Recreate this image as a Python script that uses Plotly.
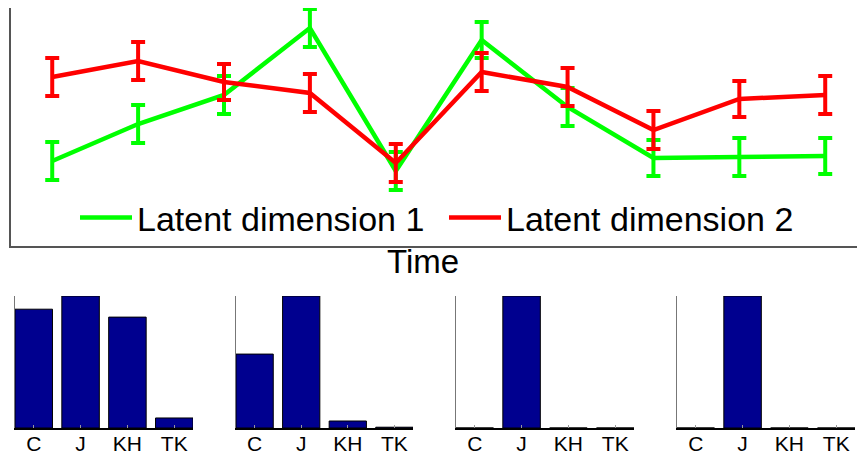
import plotly.graph_objects as go

# ---- data ----
time_points = [1, 2, 3, 4, 5, 6, 7, 8, 9, 10]
dim1_values = [0.85, 1.22, 1.51, 2.18, 0.75, 2.06, 1.39, 0.88, 0.89, 0.90]
dim1_errors = [0.19, 0.19, 0.19, 0.19, 0.19, 0.18, 0.19, 0.18, 0.19, 0.18]
dim2_values = [1.69, 1.85, 1.64, 1.53, 0.83, 1.74, 1.59, 1.16, 1.47, 1.51]
dim2_errors = [0.19, 0.19, 0.18, 0.19, 0.19, 0.19, 0.19, 0.19, 0.18, 0.19]

categories = ["C", "J", "KH", "TK"]
panel1 = [0.90, 1.00, 0.84, 0.076]
panel2 = [0.56, 1.00, 0.053, 0.006]
panel3 = [0.0, 1.00, 0.0, 0.0]
panel4 = [0.0, 1.00, 0.0, 0.0]
panels = [panel1, panel2, panel3, panel4]

W, H = 857, 454
FONT = "Liberation Sans, Arial, sans-serif"

fig = go.Figure()

fig.add_trace(go.Scatter(
    x=time_points, y=dim1_values, mode="lines", name="Latent dimension 1",
    line=dict(color="#00FF00", width=4.5),
    error_y=dict(type="data", array=dim1_errors, visible=True,
                 color="#00FF00", thickness=4, width=7),
    xaxis="x", yaxis="y"))
fig.add_trace(go.Scatter(
    x=time_points, y=dim2_values, mode="lines", name="Latent dimension 2",
    line=dict(color="#FF0000", width=4.5),
    error_y=dict(type="data", array=dim2_errors, visible=True,
                 color="#FF0000", thickness=4, width=7),
    xaxis="x", yaxis="y"))

def px_x(a, b):
    return [a / W, b / W]

def px_y(top, bottom):
    return [1 - bottom / H, 1 - top / H]

layout = dict(
    width=W, height=H, margin=dict(l=0, r=0, t=0, b=0, autoexpand=False),
    paper_bgcolor="white", plot_bgcolor="white",
    font=dict(family=FONT, color="black"),
    showlegend=True,
    legend=dict(orientation="h", x=75 / W, xanchor="left",
                y=1 - 218 / H, yanchor="middle",
                font=dict(size=34, family=FONT, color="black"),
                bgcolor="rgba(0,0,0,0)", entrywidth=302, entrywidthmode="pixels",
                itemwidth=52),
    xaxis=dict(domain=px_x(11, 857), range=[0.52, 10.37], showgrid=False,
               zeroline=False, showline=True, linecolor="#555555", linewidth=1.5,
               showticklabels=False, ticks="", anchor="y", automargin=False),
    yaxis=dict(domain=px_y(8, 246), range=[0, 2.38], showgrid=False,
               zeroline=False, showline=True, linecolor="#555555", linewidth=1.5,
               showticklabels=False, ticks="", anchor="x", automargin=False),
    annotations=[dict(text="Time", x=423 / W, y=1 - 261 / H,
                      xref="paper", yref="paper", showarrow=False,
                      font=dict(size=33, family=FONT, color="black"),
                      xanchor="center", yanchor="middle")],
)

x_doms = [(15, 193), (236, 413), (456, 634), (677, 855)]
for i, (vals, (a, b)) in enumerate(zip(panels, x_doms)):
    xa = f"x{i + 2}"
    ya = f"y{i + 2}"
    fig.add_trace(go.Bar(
        x=[1, 2, 3, 4], y=vals, width=0.8, showlegend=False,
        marker=dict(color="#00008F", line=dict(color="black", width=1)),
        xaxis=xa, yaxis=ya))
    layout[f"xaxis{i + 2}"] = dict(
        domain=px_x(a, b), range=[0.6, 4.4], showgrid=False, zeroline=False,
        showline=True, linecolor="black", linewidth=1.5,
        tickmode="array", tickvals=[1, 2, 3, 4], ticktext=categories,
        ticks="inside", ticklen=3, tickcolor="#999999",
        ticklabelstandoff=-4, automargin=False,
        tickfont=dict(size=21, family=FONT, color="black"), anchor=ya)
    layout[f"yaxis{i + 2}"] = dict(
        domain=px_y(296, 428), range=[0, 1], showgrid=False, zeroline=False,
        showline=True, linecolor="#777777", linewidth=1,
        showticklabels=False, ticks="", anchor=xa, automargin=False)

fig.update_layout(**layout)
fig.write_html("out.html")
